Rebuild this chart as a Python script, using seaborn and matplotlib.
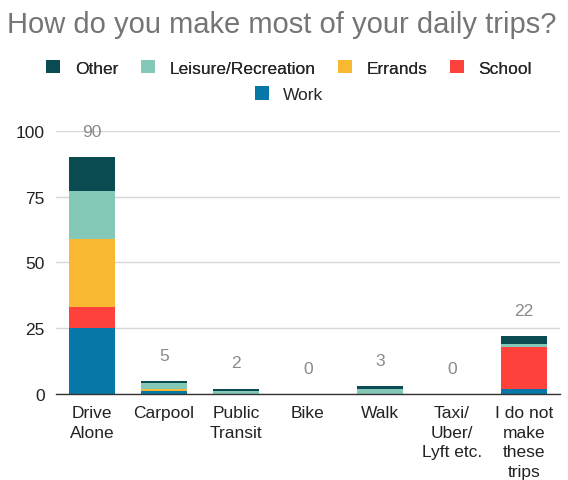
import matplotlib
matplotlib.use("Agg")
import matplotlib.pyplot as plt
import seaborn as sns
import pandas as pd
import numpy as np
from matplotlib.patches import Patch

categories = ["Drive\nAlone", "Carpool", "Public\nTransit", "Bike", "Walk",
              "Taxi/\nUber/\nLyft etc.", "I do not\nmake\nthese\ntrips"]
work = [25, 1, 0, 0, 0, 0, 2]
school = [8, 0, 0, 0, 0, 0, 16]
errands = [26, 1, 0, 0, 0, 0, 0]
leisure = [18, 2, 1, 0, 2, 0, 1]
other = [13, 1, 1, 0, 1, 0, 3]
totals = [90, 5, 2, 0, 3, 0, 22]

series_names = ["Work", "School", "Errands", "Leisure/Recreation", "Other"]
series_vals = [work, school, errands, leisure, other]
colors = {"Work": "#0677a7", "School": "#fe413a", "Errands": "#f8b832",
          "Leisure/Recreation": "#84c8b7", "Other": "#0b4c53"}

sns.set_theme(style="white")
plt.rcParams['font.family'] = ['Liberation Sans', 'DejaVu Sans']

fig = plt.figure(figsize=(5.68, 4.81), dpi=100)
ax = fig.add_axes([0.0986, 0.179, 0.887, 0.547])

cum = np.cumsum(np.array(series_vals), axis=0)
for i in range(len(series_names) - 1, -1, -1):
    df = pd.DataFrame({"cat": categories, "val": cum[i]})
    sns.barplot(data=df, x="cat", y="val", color=colors[series_names[i]],
                saturation=1, width=0.64, ax=ax, edgecolor="none", linewidth=0)

for x, t in enumerate(totals):
    ax.annotate(str(t), (x, t), xytext=(0, 18.5), textcoords="offset points",
                ha="center", va="center", color="#8a8a8a", fontsize=12.5,
                annotation_clip=False)

ax.set_ylim(0, 100)
ax.set_xlim(-0.5, 6.5)
ax.set_yticks([0, 25, 50, 75, 100])
ax.yaxis.grid(True, color="#d6d6d6", linewidth=1)
ax.set_axisbelow(True)
for s in ["top", "right", "left"]:
    ax.spines[s].set_visible(False)
ax.spines["bottom"].set_color("#333333")
ax.spines["bottom"].set_linewidth(1)
ax.set_xlabel("")
ax.set_ylabel("")
ax.tick_params(axis="both", length=0, labelsize=12.5, colors="#222222", pad=8)
ax.tick_params(axis="y", pad=8)
for lbl in ax.get_xticklabels():
    lbl.set_linespacing(1.38)

fig.text(0.012, 0.948, "How do you make most of your daily trips?", fontsize=21,
         color="#757575", ha="left", va="center")

row1 = ["Other", "Leisure/Recreation", "Errands", "School"]
h1 = [Patch(facecolor=colors[n], edgecolor="none") for n in row1]
leg1 = fig.legend(h1, row1, loc="center", bbox_to_anchor=(0.509, 0.857), ncol=4,
                  frameon=False, fontsize=12.5, handlelength=0.8, handleheight=0.8,
                  columnspacing=1.3, handletextpad=0.85)
fig.add_artist(leg1)
h2 = [Patch(facecolor=colors["Work"], edgecolor="none")]
fig.legend(h2, ["Work"], loc="center", bbox_to_anchor=(0.509, 0.802), ncol=1,
           frameon=False, fontsize=12.5, handlelength=0.8, handleheight=0.8,
           handletextpad=0.85)

fig.savefig("out.png", dpi=100)
